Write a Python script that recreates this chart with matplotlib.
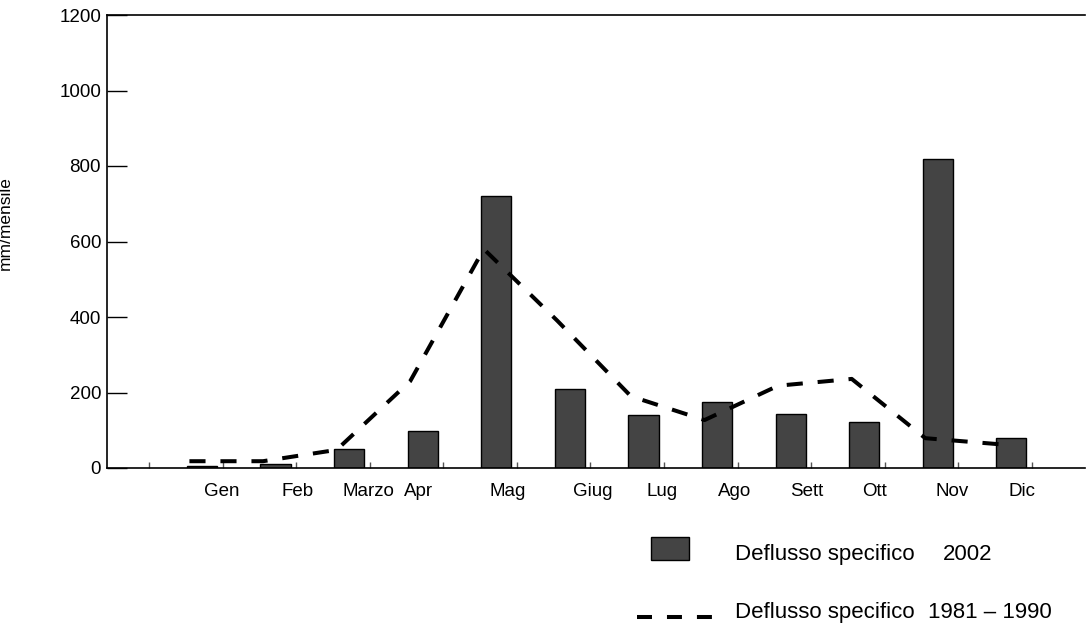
import numpy as np
import matplotlib.pyplot as plt
from matplotlib.patches import Rectangle
from matplotlib.lines import Line2D

plt.rcParams['font.family'] = ['Liberation Sans', 'DejaVu Sans']

months = ['Gen', 'Feb', 'Marzo', 'Apr', 'Mag', 'Giug', 'Lug', 'Ago', 'Sett', 'Ott', 'Nov', 'Dic']
deflusso_2002 = [5, 10, 50, 99, 720, 209, 140, 174, 142, 123, 818, 80]
deflusso_1981_1990 = [18, 18, 48, 230, 580, 390, 190, 127, 218, 236, 79, 63]

# label positions drift a bit in the original
label_pos = [0.27, 1.30, 2.26, 2.95, 4.16, 5.31, 6.25, 7.24, 8.22, 9.14, 10.19, 11.14]

x = np.arange(len(months))

fig = plt.figure(figsize=(10.87, 6.25), dpi=100)
ax = fig.add_axes([107 / 1087, 1 - 468 / 625, 978 / 1087, 453 / 625])

ax.bar(x, deflusso_2002, width=0.41, color='#444444', edgecolor='black', linewidth=1.0, zorder=2)
ax.plot(x - 0.17, deflusso_1981_1990, color='black', lw=2.9, linestyle=(0, (4, 3.7)), zorder=3)

ax.set_xlim(-1.29, 12.0)
ax.set_ylim(0, 1200)
ax.set_yticks(np.arange(0, 1201, 200))
ax.tick_params(axis='y', direction='in', length=14.4, width=1.0, labelsize=13.5, pad=4.3)

ax.set_xticks(label_pos)
ax.set_xticklabels(months)
ax.set_xticks(np.arange(-1, 12) + 0.28, minor=True)
ax.tick_params(axis='x', which='major', length=0, labelsize=13.5, pad=11)
ax.tick_params(axis='x', which='minor', direction='in', length=4, width=1.0, color='#555555')

ax.spines['right'].set_visible(False)
for s in ['left', 'top', 'bottom']:
    ax.spines[s].set_linewidth(1.2)

ax.set_ylabel('mm/mensile', fontsize=12.5)
ax.yaxis.set_label_coords(-0.096, 0.54)

# legend drawn by hand below the axes
fig.patches.append(Rectangle((651 / 1087, 1 - 560 / 625), 38 / 1087, 23 / 625,
                             transform=fig.transFigure, facecolor='#444444',
                             edgecolor='black', linewidth=1.0))
fig.lines.append(Line2D([637 / 1087, 712 / 1087], [1 - 617 / 625, 1 - 617 / 625],
                        transform=fig.transFigure, color='black', lw=2.9,
                        linestyle=(0, (3.72, 3.72))))
fig.text(735 / 1087, 1 - 560 / 625, 'Deflusso specifico', fontsize=16, va='baseline')
fig.text(943 / 1087, 1 - 560 / 625, '2002', fontsize=16, va='baseline')
fig.text(735 / 1087, 1 - 618 / 625, 'Deflusso specifico', fontsize=16, va='baseline')
fig.text(928 / 1087, 1 - 618 / 625, '1981 \u2013 1990', fontsize=16, va='baseline')

fig.savefig('out.png', dpi=100)
